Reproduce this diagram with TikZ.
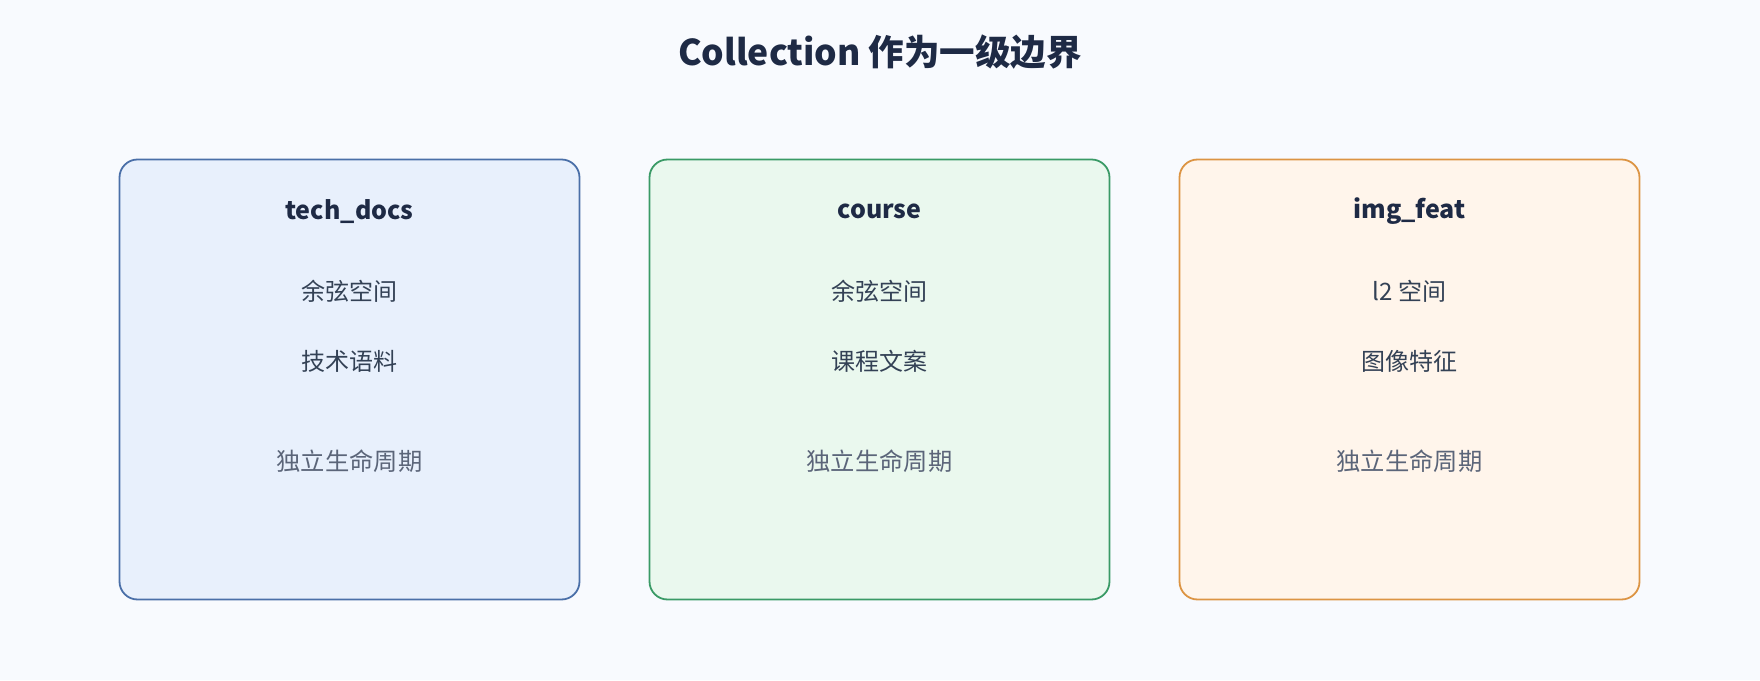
\documentclass[tikz,border=0pt]{standalone}
\usepackage{fontspec}
\setmainfont{Noto Sans CJK SC}
\usepackage{xcolor}
\usepackage{tikz}
\usetikzlibrary{positioning, backgrounds}

\definecolor{pagebg}{HTML}{F8FAFE}
\definecolor{titlecol}{HTML}{1E2A45}
\definecolor{textcol}{HTML}{334155}
\definecolor{notecol}{HTML}{5B6579}
\definecolor{bluefill}{HTML}{E8F0FC}
\definecolor{blueline}{HTML}{4A6FA8}
\definecolor{greenfill}{HTML}{EAF8EE}
\definecolor{greenline}{HTML}{3A9A66}
\definecolor{orangefill}{HTML}{FFF5EB}
\definecolor{orangeline}{HTML}{DC9443}

\begin{document}
\begin{tikzpicture}[x=1pt, y=1pt, node distance=530pt]
    \tikzstyle{heading} = [text=titlecol, font=\fontsize{35.5}{42}\selectfont\bfseries]
    \tikzstyle{collbox} = [rectangle, rounded corners=18pt, line width=1.8pt, minimum width=460pt, minimum height=440pt]
    \tikzstyle{collname} = [text=titlecol, font=\fontsize{25}{30}\selectfont\bfseries]
    \tikzstyle{info} = [text=textcol, font=\fontsize{24}{28}\selectfont]
    \tikzstyle{note} = [text=notecol, font=\fontsize{24.3}{28}\selectfont]

    \fill[pagebg] (0,0) rectangle (1760,680);
    \useasboundingbox (0,0) rectangle (1760,680);

    \node (title) [heading] at (880,628) {Collection 作为一级边界};

    \node (techdocs) [collbox, fill=bluefill, draw=blueline] at (349.5,300.5) {};
    \node (course) [collbox, fill=greenfill, draw=greenline, right of=techdocs] {};
    \node (imgfeat) [collbox, fill=orangefill, draw=orangeline, right of=course] {};

    \node (techname) [collname, yshift=-53pt] at (techdocs.north) {tech\_docs};
    \node (techspace) [info, yshift=-133pt] at (techdocs.north) {余弦空间};
    \node (techdata) [info, yshift=-203pt] at (techdocs.north) {技术语料};
    \node (techlife) [note, yshift=-303pt] at (techdocs.north) {独立生命周期};

    \node (coursename) [collname, yshift=-53pt] at (course.north) {course};
    \node (coursespace) [info, yshift=-133pt] at (course.north) {余弦空间};
    \node (coursedata) [info, yshift=-203pt] at (course.north) {课程文案};
    \node (courselife) [note, yshift=-303pt] at (course.north) {独立生命周期};

    \node (imgname) [collname, yshift=-53pt] at (imgfeat.north) {img\_feat};
    \node (imgspace) [info, yshift=-133pt] at (imgfeat.north) {l2 空间};
    \node (imgdata) [info, yshift=-203pt] at (imgfeat.north) {图像特征};
    \node (imglife) [note, yshift=-303pt] at (imgfeat.north) {独立生命周期};

\end{tikzpicture}
\end{document}
